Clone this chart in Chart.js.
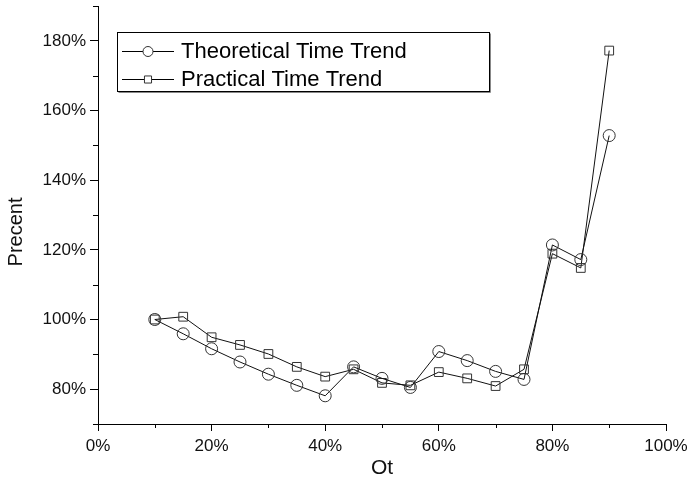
<!DOCTYPE html>
<html>
<head>
<meta charset="utf-8">
<script src="https://cdn.jsdelivr.net/npm/chart.js@4/dist/chart.umd.min.js"></script>
<style>
html,body{margin:0;padding:0;background:#fff;}
#wrap{width:689px;height:491px;position:relative;}
</style>
</head>
<body>
<div id="wrap"><canvas id="c" width="689" height="491"></canvas></div>
<script>
// Data (percent)
const otValues = [10, 15, 20, 25, 30, 35, 40, 45, 50, 55, 60, 65, 70, 75, 80, 85, 90];
const theoretical = [100, 95.9, 91.6, 87.8, 84.3, 81.1, 78.1, 86.4, 83.1, 80.5, 90.8, 88.2, 85.1, 82.8, 121.4, 117.2, 152.8];
const practical = [100, 100.8, 94.9, 92.7, 90.1, 86.4, 83.6, 85.7, 81.8, 81.1, 84.9, 83.1, 80.9, 85.7, 118.9, 114.8, 177.2];
const seriesNames = ["Theoretical Time Trend", "Practical Time Trend"];
const xTickLabels = ["0%", "20%", "40%", "60%", "80%", "100%"];
const yTickLabels = ["80%", "100%", "120%", "140%", "160%", "180%"];
const xTitle = "Ot";
const yTitle = "Precent";

const FONT = "'Liberation Sans', Arial, sans-serif";
const toPts = ys => otValues.map((x, i) => ({x: x, y: ys[i]}));

const minorTicks = {
  id: 'minorTicks',
  afterDraw(chart) {
    const ctx = chart.ctx;
    ctx.save();
    ctx.strokeStyle = '#000';
    ctx.lineWidth = 1;
    const xs = chart.scales.x, ys = chart.scales.y;
    xs.ticks.forEach(t => {
      if (t.value % 20 !== 0) {
        const px = Math.round(xs.getPixelForValue(t.value)) + 0.5;
        ctx.beginPath(); ctx.moveTo(px, xs.top); ctx.lineTo(px, xs.top + 4); ctx.stroke();
      }
    });
    ys.ticks.forEach(t => {
      if (t.value % 20 !== 0) {
        const py = Math.round(ys.getPixelForValue(t.value)) + 0.5;
        ctx.beginPath(); ctx.moveTo(ys.right, py); ctx.lineTo(ys.right - 5, py); ctx.stroke();
      }
    });
    // y axis title (real text)
    ctx.fillStyle = '#111';
    ctx.font = "20px " + FONT;
    ctx.textAlign = 'center';
    ctx.textBaseline = 'middle';
    ctx.translate(16, 232);
    ctx.rotate(-Math.PI / 2);
    ctx.fillText(yTitle, 0, 0);
    ctx.restore();
  }
};

const boxLegend = {
  id: 'boxLegend',
  afterDraw(chart) {
    const ctx = chart.ctx;
    const x0 = 117.5, y0 = 32.5, w = 372, h = 59;
    ctx.save();
    ctx.fillStyle = '#fff';
    ctx.fillRect(x0, y0, w, h);
    ctx.strokeStyle = '#888';
    ctx.lineWidth = 1;
    ctx.beginPath();
    ctx.moveTo(x0 + 1, y0 + h + 1); ctx.lineTo(x0 + w + 1, y0 + h + 1); ctx.lineTo(x0 + w + 1, y0 + 1);
    ctx.stroke();
    ctx.strokeStyle = '#000';
    ctx.strokeRect(x0, y0, w, h);
    const rows = [51, 79];
    chart.data.datasets.forEach((ds, i) => {
      const yy = rows[i] + 0.5;
      ctx.strokeStyle = '#000';
      ctx.lineWidth = 1;
      ctx.beginPath(); ctx.moveTo(122, yy); ctx.lineTo(174, yy); ctx.stroke();
      ctx.strokeStyle = '#333';
      ctx.fillStyle = '#fff';
      Chart.helpers.drawPoint(ctx, {pointStyle: ds.pointStyle, radius: 5, borderWidth: 1, rotation: 0}, 148, yy);
      ctx.fillStyle = '#000';
      ctx.font = "22px " + FONT;
      ctx.textBaseline = 'middle';
      ctx.textAlign = 'left';
      ctx.fillText(ds.label, 181, rows[i] + 1);
    });
    ctx.restore();
  }
};

new Chart(document.getElementById('c'), {
  type: 'line',
  data: {
    datasets: [
      {label: seriesNames[0], data: toPts(theoretical), pointStyle: 'circle', pointRadius: 6,
       borderColor: '#111', borderWidth: 1, pointBorderColor: '#333', pointBackgroundColor: 'rgba(0,0,0,0)', pointBorderWidth: 1, tension: 0},
      {label: seriesNames[1], data: toPts(practical), pointStyle: 'rect', pointRadius: 6.2,
       borderColor: '#111', borderWidth: 1, pointBorderColor: '#333', pointBackgroundColor: 'rgba(0,0,0,0)', pointBorderWidth: 1, tension: 0}
    ]
  },
  options: {
    responsive: false,
    animation: false,
    layout: {autoPadding: false, padding: {top: 6, right: 23, left: 0, bottom: 0}},
    plugins: {legend: {display: false}, tooltip: {enabled: false}},
    scales: {
      x: {
        type: 'linear', min: 0, max: 100,
        afterFit: s => { s.height = 67; s.paddingLeft = 0; s.paddingRight = 0; },
        ticks: {stepSize: 10, autoSkip: false, maxRotation: 0, padding: 5, color: '#111',
          font: {family: FONT, size: 17},
          callback: v => (v % 20 === 0 ? xTickLabels[v / 20] : '')},
        grid: {drawOnChartArea: false, drawTicks: true, tickLength: 7,
          tickColor: c => (c.tick && c.tick.value % 20 === 0 ? '#000' : 'rgba(0,0,0,0)')},
        border: {display: true, color: '#000', width: 1},
        title: {display: true, text: xTitle, color: '#111', font: {family: FONT, size: 21}, padding: {top: 0, bottom: 10}}
      },
      y: {
        type: 'linear', min: 70, max: 190,
        afterFit: s => { s.width = 98; s.paddingTop = 0; s.paddingBottom = 0; },
        ticks: {stepSize: 10, autoSkip: false, padding: 4, color: '#111',
          font: {family: FONT, size: 17},
          callback: v => (v % 20 === 0 && v >= 80 && v <= 180 ? yTickLabels[(v - 80) / 20] : '')},
        grid: {drawOnChartArea: false, drawTicks: true, tickLength: 8,
          tickColor: c => (c.tick && c.tick.value % 20 === 0 ? '#000' : 'rgba(0,0,0,0)')},
        border: {display: true, color: '#000', width: 1},
        title: {display: false}
      }
    }
  },
  plugins: [minorTicks, boxLegend]
});
</script>
</body>
</html>
